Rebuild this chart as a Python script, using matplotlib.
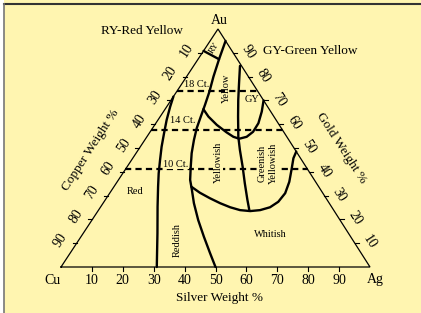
import numpy as np
import matplotlib.pyplot as plt

plt.rcParams['font.family'] = ['Liberation Serif', 'DejaVu Serif']

# Compositions are (silver %, gold %); copper is the rest
ticks = [10, 20, 30, 40, 50, 60, 70, 80, 90]

red_ag = [0, 1.1, 2.8, 4.8, 6.9, 9.2, 11.6, 14.3, 18.4, 24.0, 31.0]
red_au = [71.6, 67.4, 61.8, 56.2, 50.5, 45.0, 39.4, 33.7, 25.3, 14.2, 0]

main_ag = [5.0, 6.8, 8.7, 10.6, 12.0, 13.3, 14.3, 15.9, 18.0, 20.6, 23.2, 25.9, 29.4, 34.4, 39.8, 45.3, 50.0]
main_au = [95.0, 87.3, 80.0, 73.7, 68.1, 62.5, 58.3, 53.4, 47.8, 42.1, 36.6, 32.4, 26.8, 19.7, 12.7, 5.8, 0]

ry_ag = [0, 6.8]
ry_au = [90.8, 87.3]

yel_ag = [12.4, 15.6, 20.1, 24.8, 28.0, 30.3, 32.3, 33.3, 33.2, 31.8, 30.0]
yel_au = [66.3, 63.2, 59.7, 56.6, 54.7, 53.9, 54.7, 56.8, 60.4, 65.3, 70.0]

gy_ag = [15.0, 18.4, 21.7, 25.2, 29.6, 32.9, 37.4, 41.6, 46.0, 49.0]
gy_au = [84.5, 77.2, 70.2, 63.2, 54.7, 49.2, 42.1, 35.2, 28.2, 23.6]

wh_ag = [25.1, 29.1, 33.5, 37.9, 42.0, 45.8, 49.3, 52.3, 54.9, 56.4, 56.8, 55.7, 53.6, 52.0, 51.5]
wh_au = [33.7, 31.2, 28.9, 26.8, 25.1, 23.9, 23.5, 23.9, 25.1, 27.4, 31.0, 35.8, 41.5, 45.7, 48.5]

carat_au = [74, 57.5, 41]
carat_names = ["18 Ct.", "14 Ct.", "10 Ct."]

# layout (pixels)
W, H = 421, 313
X0, Y0 = 61, 267      # Cu corner
SX, SY = 3.09, 2.38   # px per percent
K = 0.508             # shear so Au apex sits at x = 50.8


def tern(ag, au):
    ag = np.asarray(ag, float)
    au = np.asarray(au, float)
    return ag + K * au, au


def P(x, y):
    return (x - X0) / SX, (Y0 - y) / SY


fig = plt.figure(figsize=(W / 100, H / 100), dpi=100)
fig.patch.set_facecolor('white')
ax = fig.add_axes([0, 0, 1, 1])
ax.set_xlim(-X0 / SX, (W - X0) / SX)
ax.set_ylim(-(H - Y0) / SY, Y0 / SY)
ax.axis('off')

bg = '#fff5b0'
ax.add_patch(plt.Rectangle(P(4, H + 10), (W + 10) / SX, (H + 10) / SY,
                           facecolor=bg, edgecolor='none', zorder=0))
ax.plot(*zip(P(4, 4), P(W + 5, 4)), color='#333333', lw=1.5, zorder=1)
ax.plot(*zip(P(4, 4), P(4, H + 5)), color='#777777', lw=1.2, zorder=1)

# triangle
tx, ty = tern([0, 100, 0, 0], [0, 0, 100, 0])
ax.plot(tx, ty, color='black', lw=0.9, solid_joinstyle='miter')

tl = 4
for v in ticks:
    bx, by = tern(v, 0)
    ax.plot([bx, bx], [by, by - tl / SY], color='black', lw=0.8)
    ax.annotate(str(v), (bx, by), xytext=(0, -13), textcoords='offset pixels',
                ha='center', va='center', fontsize=10)
    lx, ly = tern(0, 100 - v)
    ax.plot([lx, lx - tl / SX], [ly, ly], color='black', lw=0.8)
    ax.annotate(str(v), (lx, ly), xytext=(-16, 3), textcoords='offset pixels',
                ha='center', va='center', fontsize=10, rotation=57)
    rx, ry = tern(100 - v, v)
    ax.plot([rx, rx + tl / SX], [ry, ry], color='black', lw=0.8)
    ax.annotate(str(v), (rx, ry), xytext=(15, 1), textcoords='offset pixels',
                ha='center', va='center', fontsize=10, rotation=-57)

# region boundaries
for ag, au in [(red_ag, red_au), (main_ag, main_au), (ry_ag, ry_au),
               (yel_ag, yel_au), (gy_ag, gy_au), (wh_ag, wh_au)]:
    ax.plot(*tern(ag, au), color='black', lw=1.7, solid_capstyle='round')

# carat lines across the whole triangle
for au in carat_au:
    x1, _ = tern(0, au)
    x2, _ = tern(100 - au, au)
    ax.plot([x1, x2], [au, au], color='black', lw=1.6, linestyle=(0, (2.8, 1.9)))

# text
fs = 9.5
ax.text(*P(219.5, 20), 'Au', ha='center', va='center', fontsize=10)
ax.text(*P(52.5, 280), 'Cu', ha='center', va='center', fontsize=10)
ax.text(*P(375, 280), 'Ag', ha='center', va='center', fontsize=10)
ax.text(*P(142, 31.5), 'RY-Red Yellow', ha='center', va='center', fontsize=fs)
ax.text(*P(310, 50.5), 'GY-Green Yellow', ha='center', va='center', fontsize=fs)
ax.text(*P(219.5, 297.5), 'Silver Weight %', ha='center', va='center', fontsize=fs)
ax.text(*P(91, 150), 'Copper Weight %', ha='center', va='center', fontsize=fs, rotation=57)
ax.text(*P(341, 148), 'Gold Weight %', ha='center', va='center', fontsize=fs, rotation=-57)

rs = 7.5
box = dict(facecolor=bg, edgecolor='none', pad=0.3)
ax.text(*P(196.7, 84.5), carat_names[0], ha='center', va='center', fontsize=rs)
ax.text(*P(182.7, 120.5), carat_names[1], ha='center', va='center', fontsize=rs)
ax.text(*P(176, 164.5), carat_names[2], ha='center', va='center', fontsize=rs, bbox=box)
ax.text(*P(214.5, 47.5), 'RY', ha='center', va='center', fontsize=6.5, rotation=57)
ax.text(*P(226, 88), 'Yellow', ha='center', va='center', fontsize=rs, rotation=90)
ax.text(*P(251.7, 100), 'GY', ha='center', va='center', fontsize=rs)
ax.text(*P(218.3, 162.5), 'Yellowish', ha='center', va='center', fontsize=rs, rotation=90, bbox=box)
ax.text(*P(261.7, 163.5), 'Greenish', ha='center', va='center', fontsize=rs, rotation=90, bbox=box)
ax.text(*P(273.3, 163.5), 'Yellowish', ha='center', va='center', fontsize=rs, rotation=90, bbox=box)
ax.text(*P(135, 191.7), 'Red', ha='center', va='center', fontsize=rs)
ax.text(*P(177.7, 240), 'Reddish', ha='center', va='center', fontsize=rs, rotation=90)
ax.text(*P(270, 234.3), 'Whitish', ha='center', va='center', fontsize=rs)

fig.savefig('out.png', dpi=100, facecolor=fig.get_facecolor())
